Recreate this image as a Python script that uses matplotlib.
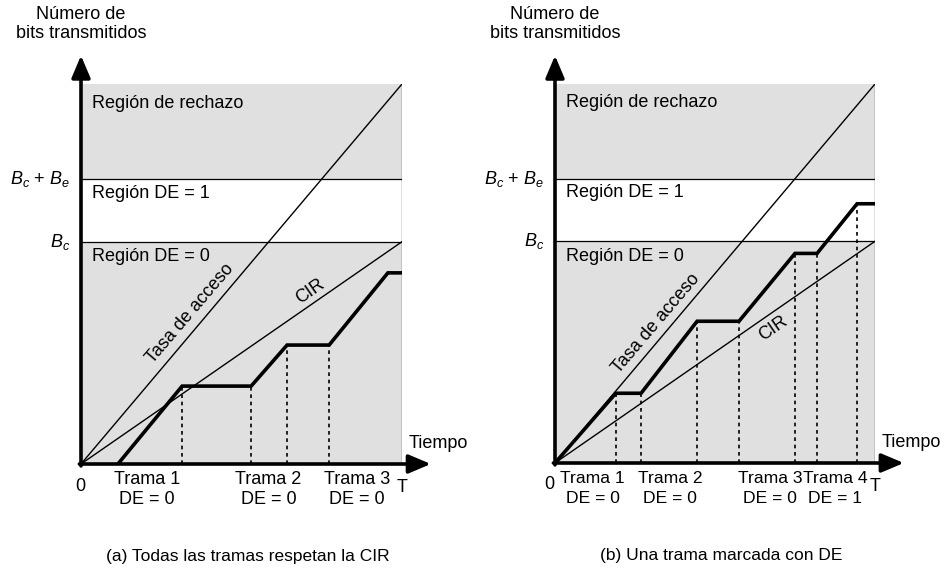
import numpy as np
import matplotlib
matplotlib.use('Agg')
import matplotlib.pyplot as plt

plt.rcParams['font.family'] = ['Liberation Sans', 'DejaVu Sans']
plt.rcParams['mathtext.fontset'] = 'custom'
plt.rcParams['mathtext.it'] = 'Liberation Sans:italic'
plt.rcParams['mathtext.rm'] = 'Liberation Sans'

# values in diagram units: T = 10, top of region = 10
T = 10
top = 10
Bc = 5.85
BcBe = 7.5

# panel (a): all frames respect CIR
a_path_x = [1.15, 3.15, 5.3, 6.42, 7.73, 9.56, 10]
a_path_y = [0, 2.05, 2.05, 3.13, 3.13, 5.03, 5.03]
a_dots = [3.15, 5.3, 6.42, 7.73]
a_trama_x = [2.05, 5.84, 8.6]
a_trama = ['Trama 1', 'Trama 2', 'Trama 3']
a_de = ['DE = 0', 'DE = 0', 'DE = 0']

# panel (b): one frame marked with DE
b_path_x = [0, 1.9, 2.69, 4.44, 5.75, 7.5, 8.19, 9.44, 10]
b_path_y = [0, 1.84, 1.84, 3.74, 3.74, 5.53, 5.53, 6.84, 6.84]
b_dots = [1.9, 2.69, 4.44, 5.75, 7.5, 8.19, 9.44]
b_trama_x = [1.17, 3.6, 6.72, 8.76]
b_trama = ['Trama 1', 'Trama 2', 'Trama 3', 'Trama 4']
b_de = ['DE = 0', 'DE = 0', 'DE = 0', 'DE = 1']

W, H = 947, 573
fig = plt.figure(figsize=(W / 100, H / 100), dpi=100)

shade = '#e0e0e0'
fs = 13


def panel(x0, x1, y0, y1, path_x, path_y, dots, trama_x, trama, de,
          acc_lab, cir_lab, caption, cap_x, zero_x, tfs):
    ax = fig.add_axes([x0 / W, 1 - y0 / H, (x1 - x0) / W, (y0 - y1) / H])
    ax.set_xlim(0, T)
    ax.set_ylim(0, top)
    ax.axis('off')

    # regions
    ax.fill_between([0, T], BcBe, top, color=shade, lw=0)
    ax.fill_between([0, T], 0, Bc, color=shade, lw=0)
    ax.plot([0, T], [BcBe, BcBe], color='k', lw=0.9)
    ax.plot([0, T], [Bc, Bc], color='k', lw=0.9)
    ax.plot([T, T], [0, top], color='k', lw=0.9)

    # access rate and CIR
    ax.plot([0, T], [0, top], color='k', lw=1.0)
    ax.plot([0, T], [0, Bc], color='k', lw=1.0)

    # dotted verticals and transmitted bits
    for d in dots:
        h = np.interp(d, path_x, path_y)
        ax.plot([d, d], [0, h], color='k', lw=1.2, ls=(0, (2.2, 2.2)))
    ax.plot(path_x, path_y, color='k', lw=2.6, solid_joinstyle='miter')

    # axes arrows
    arr = dict(arrowstyle='-|>,head_length=0.9,head_width=0.38', lw=2.6,
               color='k', mutation_scale=15, shrinkA=0, shrinkB=0)
    ax.annotate('', xy=(0, 10.75), xytext=(0, -0.05), arrowprops=arr,
                annotation_clip=False)
    ax.annotate('', xy=(10.9, 0), xytext=(-0.05, 0), arrowprops=arr,
                annotation_clip=False)

    # texts
    ax.text(0.0, 11.58, 'Número de\nbits transmitidos', ha='center',
            va='center', fontsize=fs, linespacing=1.15)
    ax.text(-0.34, BcBe, r'$B_c$ + $B_e$', ha='right', va='center', fontsize=fs)
    ax.text(-0.34, Bc, r'$B_c$', ha='right', va='center', fontsize=fs)
    ax.text(0.33, 9.5, 'Región de rechazo', ha='left', va='center', fontsize=fs)
    ax.text(0.33, 7.13, 'Región DE = 1', ha='left', va='center', fontsize=fs)
    ax.text(0.33, 5.45, 'Región DE = 0', ha='left', va='center', fontsize=fs)
    ax.text(acc_lab[0], acc_lab[1], 'Tasa de acceso', rotation=49.5,
            rotation_mode='anchor', ha='center', va='center', fontsize=fs)
    ax.text(cir_lab[0], cir_lab[1], 'CIR', rotation=34.7,
            rotation_mode='anchor', ha='center', va='center', fontsize=fs)
    ax.text(10.2, 0.55, 'Tiempo', ha='left', va='center', fontsize=fs)
    ax.text(zero_x, -0.58, '0', ha='center', va='center', fontsize=fs)
    ax.text(10.0, -0.62, 'T', ha='center', va='center', fontsize=fs)
    for x, t, d in zip(trama_x, trama, de):
        ax.text(x, -0.42, t, ha='center', va='center', fontsize=tfs)
        ax.text(x, -0.93, d, ha='center', va='center', fontsize=tfs)
    ax.text(cap_x, -2.43, caption, ha='center', va='center', fontsize=12.5)
    return ax


panel(81, 402, 464, 84, a_path_x, a_path_y, a_dots, a_trama_x, a_trama, a_de,
      (3.4, 3.97), (7.13, 4.53), '(a) Todas las tramas respetan la CIR', 5.2,
      -0.03, fs)
panel(555, 875, 463, 84, b_path_x, b_path_y, b_dots, b_trama_x, b_trama, b_de,
      (3.16, 3.68), (6.81, 3.55), '(b) Una trama marcada con DE', 5.2,
      -0.18, 12.6)

fig.savefig('out.png', dpi=100)
